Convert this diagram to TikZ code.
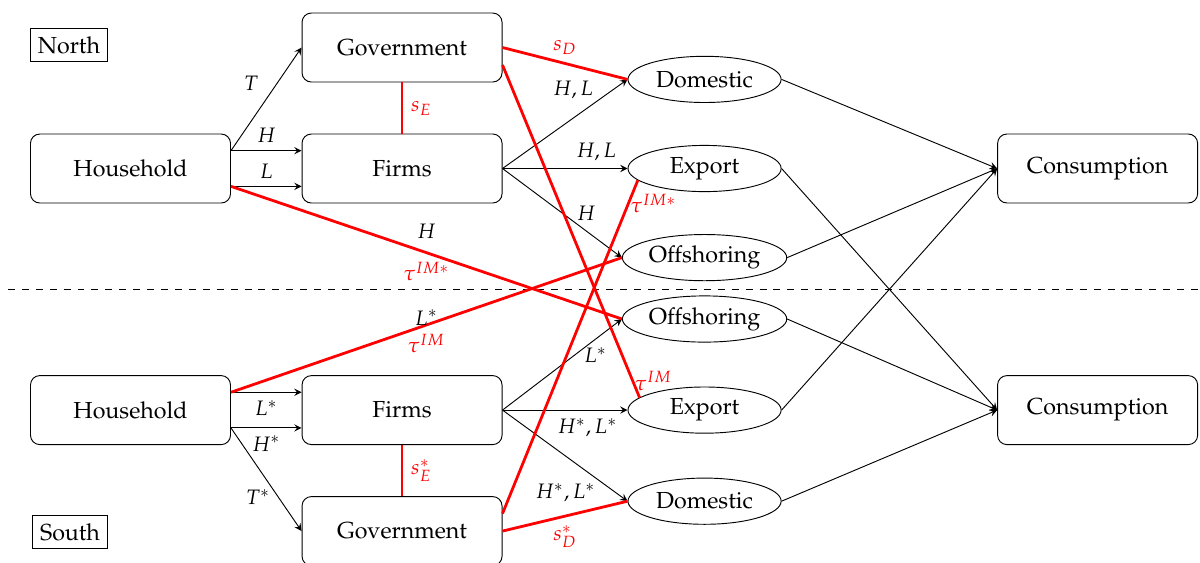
\documentclass[tikz,border=0pt]{standalone}
\usepackage[T1]{fontenc}
\usepackage{mathpazo}
\usetikzlibrary{positioning,shapes.geometric}

\begin{document}
\begin{tikzpicture}
      \tikzset{
        node distance=4.114cm,
        >=stealth,
        box/.style={draw,rounded corners,minimum width=3.03cm,minimum height=1.045cm},
        oval/.style={draw,ellipse,inner sep=1pt,minimum width=2.32cm,minimum height=0.7cm},
        region/.style={draw,inner sep=0.117cm},
        lbl/.style={font=\small},
        tax/.style={red,very thick},
        flow/.style={->}
      }

      \useasboundingbox (-1.977,2.553) rectangle (16.203,-5.962);

      % North
      \node[box] (hN) {Household};
      \node[box, right of=hN] (fN) {Firms};
      \node[box, above of=fN, node distance=1.833cm] (gN) {Government};
      \node[oval, right of=fN, node distance=4.583cm] (eN) {Export};
      \node[oval, above of=eN, node distance=1.35cm] (dN) {Domestic};
      \node[oval, below of=eN, node distance=1.35cm] (oN) {Offshoring};
      \node[box, right of=eN, node distance=5.955cm] (cN) {Consumption};
      \node[region] (north) at (-0.932,1.871) {North};

      % South
      \node[box, below of=hN, node distance=3.66cm] (hS) {Household};
      \node[box, right of=hS] (fS) {Firms};
      \node[box, below of=fS, node distance=1.833cm] (gS) {Government};
      \node[oval, right of=fS, node distance=4.583cm] (eS) {Export};
      \node[oval, above of=eS, node distance=1.38cm] (oS) {Offshoring};
      \node[oval, below of=eS, node distance=1.38cm] (dS) {Domestic};
      \node[box, right of=eS, node distance=5.955cm] (cS) {Consumption};
      \node[region] (south) at (-0.916,-5.507) {South};

      \coordinate (bl) at (-1.857,-1.826);
      \coordinate (br) at (16.203,-1.826);
      \draw[dashed] (bl) -- (br);

      \draw ([yshift=0.27cm]hN.east) edge[flow] node[lbl,above left] {$T$} (gN.west)
            ([yshift=0.27cm]hN.east) edge[flow] node[lbl,above] {$H$} ([yshift=0.27cm]fN.west)
            ([yshift=-0.27cm]hN.east) edge[flow] node[lbl,above] {$L$} ([yshift=-0.27cm]fN.west)
            (fN.east) edge[flow] node[lbl,above left=-3pt,pos=0.75] {$H,L$} (dN.west)
            (fN.east) edge[flow] node[lbl,above,pos=0.75] {$H,L$} (eN.west)
            (fN.east) edge[flow] node[lbl,above=1pt,pos=0.7] {$H$} (oN.west)
            (dN.east) edge[flow] (cN.west)
            (oN.east) edge[flow] (cN.west)
            (eN.east) edge[flow] (cS.west);

      \draw ([yshift=0.27cm]hS.east) edge[flow] node[lbl,below] {$L^*$} ([yshift=0.27cm]fS.west)
            ([yshift=-0.27cm]hS.east) edge[flow] node[lbl,below] {$H^*$} ([yshift=-0.27cm]fS.west)
            ([yshift=-0.27cm]hS.east) edge[flow] node[lbl,left,pos=0.67] {$T^*$} (gS.west)
            (fS.east) edge[flow] node[lbl,below,pos=0.78] {$L^*$} (oS.west)
            (fS.east) edge[flow] node[lbl,below,pos=0.68] {$H^*,L^*$} (eS.west)
            (fS.east) edge[flow] node[lbl,below left=-3pt,pos=0.77] {$H^*,L^*$} (dS.west)
            (oS.east) edge[flow] (cS.west)
            (dS.east) edge[flow] (cS.west)
            (eS.east) edge[flow] (cN.west);

      \draw (gN.south) edge[tax] node[lbl,right] {$s_E$} (fN.north)
            (gN.east) edge[tax] node[lbl,above] {$s_D$} (dN.west)
            ([yshift=-0.265cm]gN.east) edge[tax] node[lbl,right=-3pt,pos=0.95] {$\tau^{IM}$} (eS.169)
            ([yshift=-0.27cm]hN.east) edge[tax] node[lbl,black,above=2pt] {$H$} node[lbl,below] {$\tau^{IM*}$} (oS.west);

      \draw (fS.south) edge[tax] node[lbl,right] {$s_E^*$} (gS.north)
            (gS.east) edge[tax] node[lbl,below] {$s_D^*$} (dS.west)
            ([yshift=0.265cm]gS.east) edge[tax] node[lbl,right=-3pt,pos=0.93] {$\tau^{IM*}$} (eN.190)
            ([yshift=0.27cm]hS.east) edge[tax] node[lbl,black,above=-4pt] {$L^*$} node[lbl,below] {$\tau^{IM}$} (oN.west);
    \end{tikzpicture}
\end{document}
